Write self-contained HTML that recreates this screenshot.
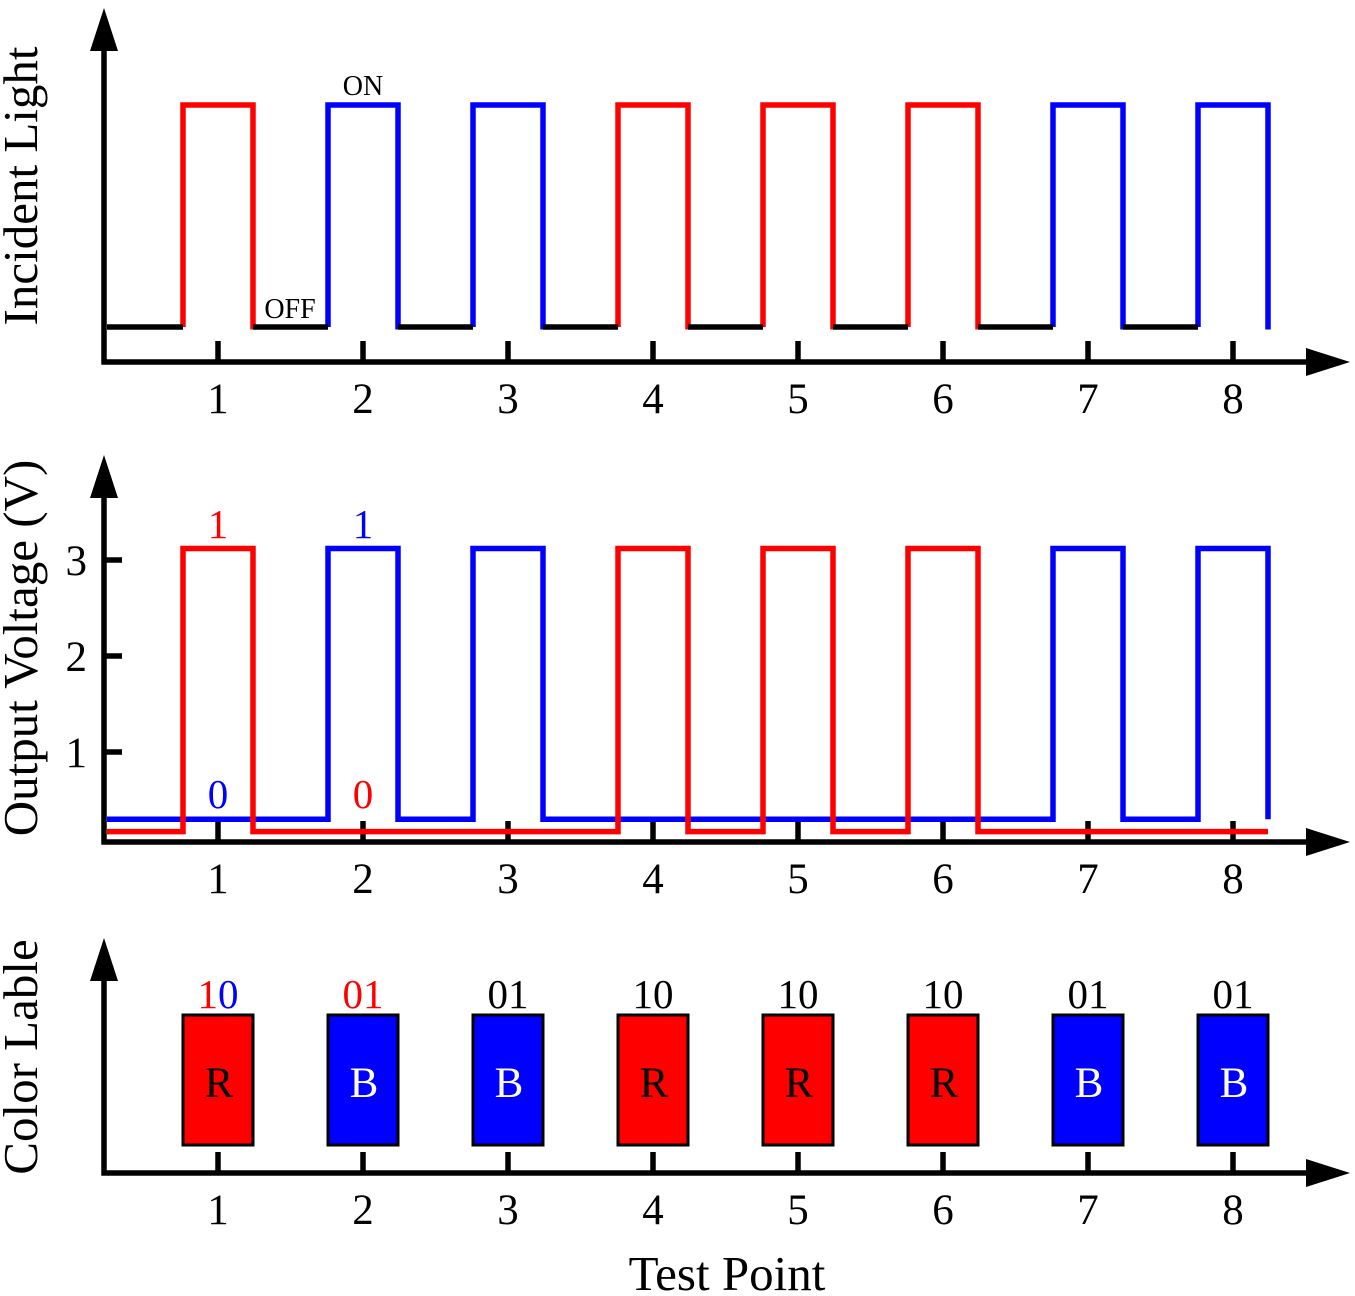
<!DOCTYPE html>
<html><head><meta charset="utf-8"><style>
html,body{margin:0;padding:0;background:#fff;}
svg{display:block;font-family:"Liberation Serif",serif;}
</style></head><body>
<svg id="chart" width="1355" height="1296" viewBox="0 0 1355 1296" xmlns="http://www.w3.org/2000/svg"></svg>
<script>
const testPoints=[1,2,3,4,5,6,7,8];
const colorLabels=["R","B","B","R","R","R","B","B"];
const codes=["10","01","01","10","10","10","01","01"];
const redHigh=3.12, redLow=0.17, blueHigh=3.12, blueLow=0.3;
const voltTicks=[1,2,3];

const NS="http://www.w3.org/2000/svg";
const svg=document.getElementById('chart');
const RED="#ff0000", BLUE="#0000ff";
function xs(i){return 218+(i-1)*145;}
function yv(v){return 848-96*v;}
const HW=35;
function el(tag,attrs,parent){const e=document.createElementNS(NS,tag);for(const k in attrs)e.setAttribute(k,attrs[k]);(parent||svg).appendChild(e);return e;}
function txt(x,y,s,size,fill,name,anchor){const t=el('text',{x:x,y:y,'font-size':size,fill:fill||'#000','text-anchor':anchor||'middle'});t.textContent=s;


return t;}
function axes(top,axisY,prefix){
  const g=el('g',{});
  
  
  el('line',{x1:104,y1:top+40,x2:104,y2:axisY+2.5,stroke:'#000','stroke-width':5.5},g);
  el('polygon',{points:`104,${top} 90,${top+43} 118,${top+43}`,fill:'#000'},g);
  el('line',{x1:101.5,y1:axisY,x2:1310,y2:axisY,stroke:'#000','stroke-width':5.5},g);
  el('polygon',{points:`1350,${axisY} 1306,${axisY-14} 1306,${axisY+14}`,fill:'#000'},g);
  testPoints.forEach(p=>{
    el('line',{x1:xs(p),y1:axisY-21,x2:xs(p),y2:axisY,stroke:'#000','stroke-width':5.5},g);
    txt(xs(p),axisY+51,String(p),43,'#000',prefix+'-x-tick-label');
  });
}
// Panel 1
axes(8,362,'light');
const lowY=327, highY=105;
testPoints.forEach((p,i)=>{
  const c=colorLabels[i]==='R'?RED:BLUE;
  const pl=el('polyline',{points:`${xs(p)-HW},${lowY} ${xs(p)-HW},${highY} ${xs(p)+HW},${highY} ${xs(p)+HW},${lowY+2.5}`,fill:'none',stroke:c,'stroke-width':5.5});
  
  
  const x0=i===0?107:xs(p-1)+HW;
  const ln=el('line',{x1:x0,y1:lowY,x2:xs(p)-HW,y2:lowY,stroke:'#000','stroke-width':5.5});
  
  
});
txt(363,95,'ON',28,'#000','on-label');
txt(290,318,'OFF',28,'#000','off-label');
const t1=txt(0,0,'Incident Light',49,'#000','incident-light-axis-title');
t1.setAttribute('transform','translate(37,186) rotate(-90)');

// Panel 2
axes(455,842,'voltage');
voltTicks.forEach(v=>{
  el('line',{x1:104,y1:yv(v),x2:122,y2:yv(v),stroke:'#000','stroke-width':5.5});
  txt(87,yv(v)+15,String(v),43,'#000','voltage-y-tick-label','end');
});
function trace(isRed,hi,lo,c,name){
  let pts=[`107,${yv(lo)}`];
  testPoints.forEach((p,i)=>{
    const h=(colorLabels[i]==='R')===isRed;
    const y=h?yv(hi):yv(lo);
    pts.push(`${xs(p)-HW},${yv(lo)}`,`${xs(p)-HW},${y}`,`${xs(p)+HW},${y}`,`${xs(p)+HW},${yv(lo)}`);
  });
  const pl=el('polyline',{points:pts.join(' '),fill:'none',stroke:c,'stroke-width':5.5});
  
  
}
trace(false,blueHigh,blueLow,BLUE,'blue-voltage-line');
trace(true,redHigh,redLow,RED,'red-voltage-line');
txt(218,538,'1',41,RED,'red-high-label');
txt(363,538,'1',41,BLUE,'blue-high-label');
txt(218,808,'0',41,BLUE,'blue-low-label');
txt(363,808,'0',41,RED,'red-low-label');
const t2=txt(0,0,'Output Voltage (V)',49,'#000','voltage-axis-title');
t2.setAttribute('transform','translate(37,648) rotate(-90)');

// Panel 3
axes(938,1173,'label');
testPoints.forEach((p,i)=>{
  const c=colorLabels[i]==='R'?RED:BLUE;
  const r=el('rect',{x:xs(p)-35,y:1015,width:70,height:130,fill:c,stroke:'#000','stroke-width':3});
  
  
  txt(xs(p)+1,1097,colorLabels[i],43,colorLabels[i]==='R'?'#000':'#fff','color-box-letter');
  if(i<2){
    const t=el('text',{x:xs(p),y:1008,'font-size':41,'text-anchor':'middle'});
    
    
    const a=el('tspan',{fill:RED},t);a.textContent=codes[i][0];
    const b=el('tspan',{fill:i===0?BLUE:RED},t);b.textContent=codes[i][1];
  } else txt(xs(p),1008,codes[i],41,'#000','code-label-'+p);
});
const t3=txt(0,0,'Color Lable',49,'#000','color-label-axis-title');
t3.setAttribute('transform','translate(37,1057) rotate(-90)');
txt(727,1290,'Test Point',49,'#000','x-axis-title');
</script>
</body></html>
